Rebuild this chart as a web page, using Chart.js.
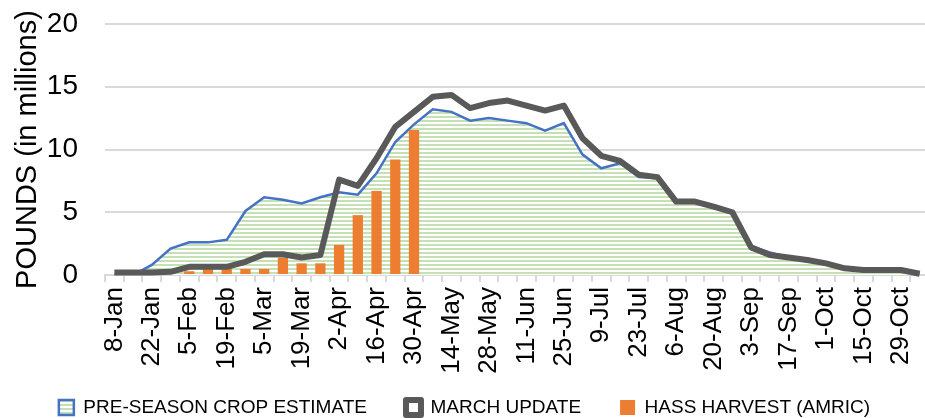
<!DOCTYPE html>
<html>
<head>
<meta charset="utf-8">
<script src="https://cdn.jsdelivr.net/npm/chart.js@4/dist/chart.umd.min.js"></script>
<style>
  body { margin: 0; background: #fff; overflow: hidden; }
  #cropChart { display: block; width: 940px; height: 443px; }
</style>
</head>
<body>
<canvas id="cropChart" width="940" height="443"></canvas>
<script>
// weekly categories, 8-Jan .. 5-Nov
weeks = ["8-Jan","15-Jan","22-Jan","29-Jan","5-Feb","12-Feb","19-Feb","26-Feb","5-Mar","12-Mar",
         "19-Mar","26-Mar","2-Apr","9-Apr","16-Apr","23-Apr","30-Apr","7-May","14-May","21-May",
         "28-May","4-Jun","11-Jun","18-Jun","25-Jun","2-Jul","9-Jul","16-Jul","23-Jul","30-Jul",
         "6-Aug","13-Aug","20-Aug","27-Aug","3-Sep","10-Sep","17-Sep","24-Sep","1-Oct","8-Oct",
         "15-Oct","22-Oct","29-Oct","5-Nov"];

preSeason = [0, 0, 0.8, 2.1, 2.6, 2.6, 2.8, 5.1, 6.2, 6.0,
             5.7, 6.2, 6.6, 6.4, 8.1, 10.6, 12.0, 13.2, 13.0, 12.3,
             12.5, 12.3, 12.1, 11.5, 12.1, 9.6, 8.5, 8.9, 7.8, 7.7,
             5.8, 5.8, 5.4, 5.0, 2.3, 1.8, 1.4, 1.2, 0.9, 0.5,
             0.4, 0.4, 0.4, 0.1];

marchUpdate = [0.2, 0.2, 0.2, 0.25, 0.65, 0.65, 0.65, 1.05, 1.65, 1.65,
               1.4, 1.6, 7.6, 7.1, 9.3, 11.8, 13.0, 14.2, 14.35, 13.3,
               13.7, 13.9, 13.5, 13.1, 13.5, 10.9, 9.5, 9.1, 8.0, 7.8,
               5.85, 5.85, 5.45, 5.0, 2.2, 1.6, 1.4, 1.2, 0.93, 0.53,
               0.4, 0.4, 0.4, 0.1];

hassHarvest = [null, null, 0.25, 0.25, 0.3, 0.48, 0.72, 0.48, 0.48, 1.38,
               0.93, 0.93, 2.4, 4.77, 6.7, 9.2, 11.55];

yTicks = [0, 5, 10, 15, 20];

// green horizontal stripes for the estimate area
function stripes(){
    let c = document.createElement("canvas");
    c.width = 4; c.height = 4;
    let g = c.getContext("2d");
    g.fillStyle = "#ffffff";
    g.fillRect(0, 0, 4, 4);
    g.fillStyle = "#c5e0b4";
    g.fillRect(0, 0, 4, 2);
    return g.createPattern(c, "repeat");
}

// legend sits closer under the rotated labels than the layout would put it
const legendShift = {
    id: "legendShift",
    afterLayout(chart){
        let l = chart.legend;
        let h = l.bottom - l.top;
        l.top = 359;
        l.bottom = l.top + h;
    }
};

let ctx = document.getElementById("cropChart").getContext("2d");
let stripeFill = stripes();

new Chart(ctx, {
    type: "bar",
    data: {
        labels: weeks,
        datasets: [
            {
                type: "line",
                label: "PRE-SEASON CROP ESTIMATE",
                data: preSeason,
                borderColor: "#4472c4",
                borderWidth: 2.5,
                backgroundColor: stripeFill,
                fill: "origin",
                pointRadius: 0,
                tension: 0,
                order: 3
            },
            {
                type: "line",
                label: "MARCH UPDATE",
                data: marchUpdate,
                borderColor: "#595959",
                borderWidth: 6,
                backgroundColor: "#ffffff",
                fill: false,
                pointRadius: 0,
                tension: 0,
                borderJoinStyle: "round",
                clip: 10,
                order: 1
            },
            {
                label: "HASS HARVEST (AMRIC)",
                data: hassHarvest,
                backgroundColor: "#ed7d31",
                barPercentage: 0.55,
                categoryPercentage: 1,
                order: 2
            }
        ]
    },
    plugins: [legendShift],
    options: {
        responsive: false,
        animation: false,
        events: [],
        layout: { padding: { top: 24, left: 0, right: 11, bottom: 0 } },
        plugins: {
            tooltip: { enabled: false },
            legend: {
                position: "bottom",
                labels: {
                    boxWidth: 15,
                    boxHeight: 15,
                    padding: 39,
                    color: "#000",
                    font: { family: "Arial", size: 19 },
                    sort: (a, b) => a.datasetIndex - b.datasetIndex
                }
            }
        },
        scales: {
            x: {
                offset: true,
                grid: {
                    offset: true,
                    drawOnChartArea: false,
                    drawTicks: true,
                    tickLength: 7,
                    color: "#d9d9d9",
                    lineWidth: 2
                },
                border: { display: true, color: "#d9d9d9", width: 2 },
                ticks: {
                    autoSkip: false,
                    minRotation: 90,
                    maxRotation: 90,
                    padding: 5,
                    color: "#000",
                    font: { family: "Arial", size: 26 },
                    callback: function(v, i){ return i % 2 == 0 ? weeks[i] : ""; }
                },
                afterFit: function(s){ s.height = 100; s.paddingLeft = 0; s.paddingRight = 0; }
            },
            y: {
                min: 0,
                max: 20,
                afterBuildTicks: function(s){ s.ticks = yTicks.map(v => ({ value: v })); },
                grid: { color: "#d9d9d9", lineWidth: 2, drawTicks: false },
                border: { display: false },
                ticks: {
                    padding: 27,
                    color: "#000",
                    font: { family: "Arial", size: 28 }
                },
                title: {
                    display: true,
                    text: "POUNDS (in millions)",
                    color: "#000",
                    font: { family: "Arial", size: 29 },
                    padding: { top: 11, bottom: 0 }
                },
                afterFit: function(s){ s.width = 105; s.paddingTop = 0; s.paddingBottom = 0; }
            }
        }
    }
});
</script>
</body>
</html>
